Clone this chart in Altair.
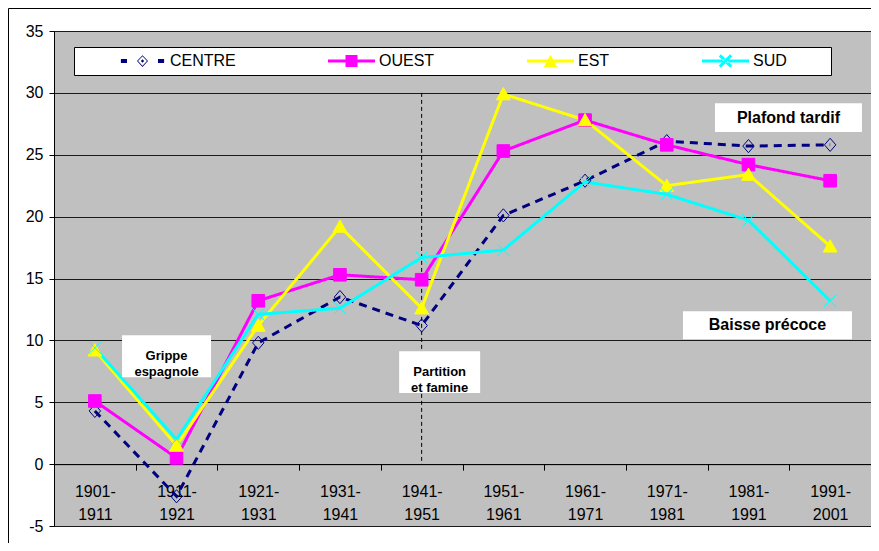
import altair as alt
import pandas as pd

# ---------------- data ----------------
periods = ["1901-1911", "1911-1921", "1921-1931", "1931-1941", "1941-1951",
           "1951-1961", "1961-1971", "1971-1981", "1981-1991", "1991-2001"]
series_names = ["CENTRE", "OUEST", "EST", "SUD"]
centre = [4.3, -2.6, 9.8, 13.5, 11.2, 20.1, 22.9, 26.1, 25.7, 25.8]
ouest = [5.1, 0.5, 13.2, 15.3, 14.9, 25.3, 27.8, 25.8, 24.2, 22.9]
est = [9.2, 1.5, 11.2, 19.2, 12.6, 29.9, 27.8, 22.5, 23.4, 17.6]
sud = [9.4, 2.0, 12.1, 12.6, 16.7, 17.3, 22.8, 21.8, 19.7, 13.2]
y_ticks = [-5, 0, 5, 10, 15, 20, 25, 30, 35]

# annotations (anchored in data coordinates)
ann_text = [["Grippe", "espagnole"], ["Partition", "et famine"], ["Plafond tardif"], ["Baisse précoce"]]
ann_period = ["1911-1921", "1941-1951", "1981-1991", "1981-1991"]
ann_top = [10.42, 9.13, 29.17, 12.36]
ann_bottom = [7.03, 5.74, 26.83, 10.10]
ann_mid = [8.73, 7.43, 28.0, 11.23]

vline_period = ["1941-1951"]
vline_top = [30]
vline_bottom = [0]

# ---------------- styles ----------------
line_colors = ["#000080", "#FF00FF", "#FFFF00", "#00FFFF"]
fill_colors = ["transparent", "#FF00FF", "#FFFF00", "transparent"]
dashes = [[8, 6], [1, 0], [1, 0], [1, 0]]
marker_paths = [
    "M0,-1.1L0.95,0L0,1.1L-0.95,0Z",
    "M-1.05,-1.05H1.05V1.05H-1.05Z",
    "M0,-1.1L1.15,0.95L-1.15,0.95Z",
    "M-1,-1L1,1M-1,1L1,-1",
]
ann_dx = [-10, 18, 40, 19]
ann_w = [89, 81, 147, 169]
ann_fs = [13, 13, 16, 16]

# legend symbols: line + marker drawn as filled shapes (unit = 23.5 px)
L = "M-1,-0.064H1V0.064H-1Z"
legend_paths = [
    ("M-0.92,-0.085H-0.66V0.085H-0.92Z M0.66,-0.085H0.92V0.085H0.66Z "
     "M0,-0.25L0.234,0L0,0.25L-0.234,0Z M0,-0.2L-0.19,0L0,0.2L0.19,0Z "
     "M0,-0.07L0.07,0L0,0.07L-0.07,0Z"),
    L + " M-0.255,-0.255H0.255V0.255H-0.255Z",
    L + " M0,-0.27L0.28,0.25L-0.28,0.25Z",
    L + (" M-0.285,-0.195L0.195,0.285L0.285,0.195L-0.195,-0.285Z"
         " M0.195,-0.285L0.285,-0.195L-0.195,0.285L-0.285,0.195Z"),
]

FONT = "Liberation Sans"

# ---------------- tables ----------------
rows = []
for name, vals in zip(series_names, [centre, ouest, est, sud]):
    for p, v in zip(periods, vals):
        rows.append({"period": p, "value": v, "series": name})
df = pd.DataFrame(rows)

vdf = pd.DataFrame({"period": vline_period, "top": vline_top, "bottom": vline_bottom})

x_enc = alt.X("period:N",
              scale=alt.Scale(type="band", domain=periods, paddingInner=0, paddingOuter=0),
              axis=alt.Axis(title=None, labelAngle=0, tickBand="extent", offset=-61.875,
                            labelExpr="[substring(datum.label, 0, 5), substring(datum.label, 5)]",
                            labelFont=FONT, labelFontSize=16, labelColor="black",
                            labelLineHeight=23.5, labelPadding=13, tickSize=6,
                            tickColor="black", domainColor="black", grid=False))
y_enc = alt.Y("value:Q",
              scale=alt.Scale(domain=[-5, 35], nice=False, zero=False),
              axis=alt.Axis(title=None, values=y_ticks, grid=True, gridColor="#1a1a1a",
                            labelExpr="'' + datum.value",
                            domainColor="black", tickColor="black", tickSize=5,
                            labelFont=FONT, labelFontSize=16, labelColor="black",
                            labelPadding=6))

base = alt.Chart(df)

legend = alt.Legend(
    title=None,
    orient="none", legendX=60, legendY=16, direction="horizontal", columns=4,
    columnPadding=92, padding=5, clipHeight=18, zindex=1,
    symbolSize=2209, symbolStrokeWidth=0, symbolOpacity=1, labelOffset=4,
    labelFont=FONT, labelFontSize=16, labelColor="black",
)

# invisible layer that only carries the legend (line + marker symbols)
legend_layer = base.mark_point(opacity=0, filled=True).encode(
    x=x_enc, y=y_enc,
    shape=alt.Shape("series:N", scale=alt.Scale(domain=series_names, range=legend_paths), legend=legend),
    fill=alt.Fill("series:N", scale=alt.Scale(domain=series_names, range=line_colors), legend=legend),
)

# legend frame (decoration)
bdf = pd.DataFrame({"a": [0]})
legend_box = alt.Chart(bdf).mark_rect(fill="white", stroke="black", strokeWidth=1).encode(
    x=alt.value(20.5), x2=alt.value(777.5), y=alt.value(16.5), y2=alt.value(44.5))

vline = alt.Chart(vdf).mark_rule(color="black", strokeWidth=1, strokeDash=[4, 3]).encode(
    x=alt.X("period:N"), y=alt.Y("top:Q"), y2=alt.Y2("bottom:Q"))

lines = base.mark_line(strokeWidth=3).encode(
    x=alt.X("period:N"), y=alt.Y("value:Q"),
    color=alt.Color("series:N", scale=alt.Scale(domain=series_names, range=line_colors), legend=None),
    strokeDash=alt.StrokeDash("series:N", scale=alt.Scale(domain=series_names, range=dashes), legend=None),
)

points = base.mark_point(size=144, strokeWidth=1, opacity=1).encode(
    x=alt.X("period:N"), y=alt.Y("value:Q"),
    shape=alt.Shape("series:N", scale=alt.Scale(domain=series_names, range=marker_paths), legend=None),
    fill=alt.Fill("series:N", scale=alt.Scale(domain=series_names, range=fill_colors), legend=None),
    stroke=alt.Stroke("series:N", scale=alt.Scale(domain=series_names, range=line_colors), legend=None),
)

ann_layers = []
for txt, per, top, bot, mid, dx, w, fs in zip(ann_text, ann_period, ann_top, ann_bottom,
                                               ann_mid, ann_dx, ann_w, ann_fs):
    adf = pd.DataFrame({"period": [per], "top": [top], "bottom": [bot], "mid": [mid], "text": [txt]})
    box = alt.Chart(adf).mark_bar(color="white", width=w, xOffset=dx).encode(
        x=alt.X("period:N"), y=alt.Y("top:Q"), y2=alt.Y2("bottom:Q"))
    label = alt.Chart(adf).mark_text(font=FONT, fontWeight="bold", fontSize=fs, color="black",
                                     baseline="middle", align="center", lineHeight=15.5,
                                     xOffset=dx).encode(
        x=alt.X("period:N"), y=alt.Y("mid:Q"), text=alt.Text("text"))
    ann_layers += [box, label]

# outer chart-area border (decoration)
border_left = alt.Chart(bdf).mark_rule(color="black", strokeWidth=1).encode(
    x=alt.value(-45.5), y=alt.value(-22.5), y2=alt.value(530))
border_top = alt.Chart(bdf).mark_rule(color="black", strokeWidth=1).encode(
    x=alt.value(-45.5), x2=alt.value(830), y=alt.value(-22.5))

chart = alt.layer(legend_layer, vline, lines, points, *ann_layers, legend_box,
                  border_left, border_top).resolve_scale(
    shape="independent", fill="independent"
).properties(
    width=817, height=495,
    padding={"left": 46, "top": 23, "right": 0, "bottom": 17},
    autosize=alt.AutoSizeParams(type="none"),
    background="white",
).configure_view(fill="#C0C0C0", stroke="#808080", strokeWidth=1)

chart.save("out.html", embed_options={"renderer": "svg", "actions": False})
